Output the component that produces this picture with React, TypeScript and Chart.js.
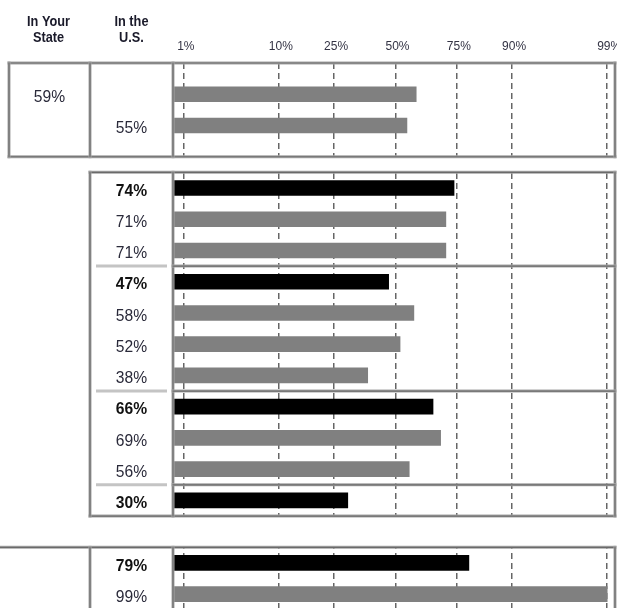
import React, { useEffect, useRef } from 'react';
import { Chart, registerables, LinearScale } from 'chart.js';

Chart.register(...registerables);

// ---------- data ----------
const rowKeys = ['top', 'q1-state', 'q1-us', 'gap-a', 'q2', 'q2-a', 'q2-b', 'q3', 'q3-a', 'q3-b', 'q3-c', 'q4', 'q4-a', 'q4-b', 'q5', 'gap-b', 'q6', 'q6-a', 'end'];
const barValues: (number | null)[] = [null, 59, 55, null, 74, 71, 71, 47, 58, 52, 38, 66, 69, 56, 30, null, 79, 99, null];
const labelColumn: (string | null)[] = [null, 'state', 'us', null, 'us', 'us', 'us', 'us', 'us', 'us', 'us', 'us', 'us', 'us', 'us', null, 'us', 'us', null];
const isHeadline: boolean[] = [false, false, false, false, true, false, false, true, false, false, false, true, false, false, true, false, true, false, false];
const tickValues = [1, 10, 25, 50, 75, 90, 99];
const tickLabels = ['1%', '10%', '25%', '50%', '75%', '90%', '99%'];
const headerState = ['In Your', 'State'];
const headerUS = ['In the', 'U.S.'];
const scaleMin = 0.724;
const scaleMax = 99.207;

const SANS = '"Liberation Sans", Arial, sans-serif';

// ---------- probit (normal quantile) scale ----------
function probit(p: number): number {
  const a = [-3.969683028665376e1, 2.209460984245205e2, -2.759285104469687e2, 1.38357751867269e2, -3.066479806614716e1, 2.506628277459239];
  const b = [-5.447609879822406e1, 1.615858368580409e2, -1.556989798598866e2, 6.680131188771972e1, -1.328068155288572e1];
  const c = [-7.784894002430293e-3, -3.223964580411365e-1, -2.400758277161838, -2.549732539343734, 4.374664141464968, 2.938163982698783];
  const d = [7.784695709041462e-3, 3.224671290700398e-1, 2.445134137142996, 3.754408661907416];
  const pl = 0.02425;
  const ph = 1 - pl;
  let q: number, r: number;
  if (p < pl) {
    q = Math.sqrt(-2 * Math.log(p));
    return (((((c[0] * q + c[1]) * q + c[2]) * q + c[3]) * q + c[4]) * q + c[5]) / ((((d[0] * q + d[1]) * q + d[2]) * q + d[3]) * q + 1);
  }
  if (p > ph) {
    q = Math.sqrt(-2 * Math.log(1 - p));
    return -(((((c[0] * q + c[1]) * q + c[2]) * q + c[3]) * q + c[4]) * q + c[5]) / ((((d[0] * q + d[1]) * q + d[2]) * q + d[3]) * q + 1);
  }
  q = p - 0.5;
  r = q * q;
  return ((((((a[0] * r + a[1]) * r + a[2]) * r + a[3]) * r + a[4]) * r + a[5]) * q) / (((((b[0] * r + b[1]) * r + b[2]) * r + b[3]) * r + b[4]) * r + 1);
}

function normCdf(z: number): number {
  const t = 1 / (1 + 0.2316419 * Math.abs(z));
  const dd = 0.3989423 * Math.exp(-z * z / 2);
  const pr = dd * t * (0.3193815 + t * (-0.3565638 + t * (1.781478 + t * (-1.821256 + t * 1.330274))));
  return z > 0 ? 1 - pr : pr;
}

class ProbitScale extends (LinearScale as any) {
  static id = 'probit';
  static defaults = {};
  _zMin = 0;
  _zMax = 1;
  determineDataLimits() {
    this.min = this.options.min;
    this.max = this.options.max;
  }
  buildTicks() {
    return tickValues.map((v) => ({ value: v }));
  }
  configure() {
    super.configure();
    this._zMin = probit(this.min / 100);
    this._zMax = probit(this.max / 100);
  }
  getPixelForValue(value: number) {
    if (value === null || value === undefined || isNaN(value)) return NaN;
    const v = Math.min(Math.max(value, this.min), this.max);
    const z = probit(v / 100);
    return this.getPixelForDecimal((z - this._zMin) / (this._zMax - this._zMin));
  }
  getValueForPixel(pixel: number) {
    const dec = this.getDecimalForPixel(pixel);
    return 100 * normCdf(this._zMin + dec * (this._zMax - this._zMin));
  }
}
Chart.register(ProbitScale as any);

// ---------- table plugin ----------
function narrowText(ctx: CanvasRenderingContext2D, text: string, x: number, y: number, sx: number) {
  ctx.save();
  ctx.translate(x, y);
  ctx.scale(sx, 1);
  ctx.fillText(text, 0, 0);
  ctx.restore();
}

const tablePlugin = {
  id: 'tablePlugin',
  beforeDatasetsDraw(chart: any) {
    const { ctx, chartArea } = chart;
    const y = chart.scales.y;
    const py = (i: number) => y.getPixelForValue(i);
    ctx.save();
    ctx.fillStyle = '#ffffff';
    ctx.fillRect(chartArea.left, py(3), chartArea.right - chartArea.left, py(3.5) - py(3));
    ctx.fillRect(chartArea.left, py(14.5), chartArea.right - chartArea.left, py(15.5) - py(14.5));
    ctx.restore();
  },
  afterDraw(chart: any) {
    const { ctx, chartArea } = chart;
    const y = chart.scales.y;
    const py = (i: number) => y.getPixelForValue(i);
    const L = chartArea.left;
    const R = chartArea.right;
    const xOuter = 9;
    const xMid = 90;
    const bottom = chart.height;

    const line = (x1: number, y1: number, x2: number, y2: number) => {
      ctx.save();
      ctx.lineCap = 'square';
      ctx.strokeStyle = '#a6a6a6';
      ctx.lineWidth = 3;
      ctx.beginPath(); ctx.moveTo(x1, y1); ctx.lineTo(x2, y2); ctx.stroke();
      ctx.strokeStyle = '#6a6a6a';
      ctx.lineWidth = 1.2;
      ctx.beginPath(); ctx.moveTo(x1, y1); ctx.lineTo(x2, y2); ctx.stroke();
      ctx.restore();
    };
    const lightLine = (x1: number, x2: number, yy: number) => {
      ctx.save();
      ctx.strokeStyle = '#c4c4c4';
      ctx.lineWidth = 3;
      ctx.beginPath(); ctx.moveTo(x1, yy); ctx.lineTo(x2, yy); ctx.stroke();
      ctx.restore();
    };

    // section 1
    const s1a = py(0), s1b = py(3);
    line(xOuter, s1a, R, s1a);
    line(xOuter, s1b, R, s1b);
    [xOuter, xMid, L, R].forEach((x) => line(x, s1a, x, s1b));

    // section 2
    const s2a = py(3.5), s2b = py(14.5);
    line(xMid, s2a, R, s2a);
    line(xMid, s2b, R, s2b);
    [xMid, L, R].forEach((x) => line(x, s2a, x, s2b));
    rowKeys.forEach((_, i) => {
      if (isHeadline[i] && i > 4 && i < 15) {
        const yy = py(i - 0.5);
        line(L, yy, R, yy);
        lightLine(xMid + 6, L - 6, yy);
      }
    });

    // section 3
    const s3a = py(15.5);
    line(0, s3a, R, s3a);
    [xMid, L, R].forEach((x) => line(x, s3a, x, bottom));

    // value labels
    const stateX = (xOuter + xMid) / 2;
    const usX = (xMid + L) / 2;
    ctx.save();
    ctx.textAlign = 'center';
    ctx.textBaseline = 'middle';
    rowKeys.forEach((_, i) => {
      const v = barValues[i];
      const col = labelColumn[i];
      if (v === null || !col) return;
      ctx.font = (isHeadline[i] ? 'bold ' : '') + '17px ' + SANS;
      ctx.fillStyle = isHeadline[i] ? '#111111' : '#2a2a3a';
      narrowText(ctx, v + '%', col === 'state' ? stateX : usX, py(i) + 3, 0.92);
    });

    // column headers
    ctx.font = 'bold 15px ' + SANS;
    ctx.fillStyle = '#1a1a2a';
    narrowText(ctx, headerState[0], stateX - 1, 22, 0.85);
    narrowText(ctx, headerState[1], stateX - 1, 38, 0.85);
    narrowText(ctx, headerUS[0], usX, 22, 0.85);
    narrowText(ctx, headerUS[1], usX, 38, 0.85);
    ctx.restore();
  },
};

export default function App() {
  const ref = useRef<HTMLCanvasElement | null>(null);
  useEffect(() => {
    if (!ref.current) return;
    const chart = new Chart(ref.current, {
      type: 'bar',
      data: {
        labels: rowKeys,
        datasets: [
          {
            data: barValues as any,
            backgroundColor: rowKeys.map((_, i) => (isHeadline[i] ? '#000000' : '#808080')),
            borderWidth: 0,
            barThickness: 15,
          },
        ],
      },
      options: {
        indexAxis: 'y',
        responsive: false,
        animation: false,
        layout: { padding: { left: 173, right: 2, top: 31, bottom: 14.6 } },
        plugins: { legend: { display: false }, tooltip: { enabled: false } },
        scales: {
          x: {
            type: 'probit' as any,
            position: 'top',
            min: scaleMin,
            max: scaleMax,
            grid: { color: '#666666', lineWidth: 1.5, drawTicks: false },
            border: { display: false, dash: [6, 4] },
            ticks: {
              autoSkip: false,
              maxRotation: 0,
              minRotation: 0,
              padding: 10,
              labelOffset: 2,
              color: '#333344',
              font: { family: SANS, size: 12, lineHeight: 1 },
              callback: (_v: any, i: number) => tickLabels[i],
            },
            afterFit: (s: any) => {
              s.paddingLeft = 0;
              s.paddingRight = 0;
            },
          } as any,
          y: { type: 'category', display: false, offset: false, grid: { display: false } },
        },
      },
      plugins: [tablePlugin],
    });
    return () => chart.destroy();
  }, []);
  return (
    <div style={{ position: 'fixed', left: 0, top: 0, width: 617, height: 608, overflow: 'hidden', background: '#fff' }}>
      <canvas ref={ref} width={617} height={640} style={{ display: 'block' }} />
    </div>
  );
}
